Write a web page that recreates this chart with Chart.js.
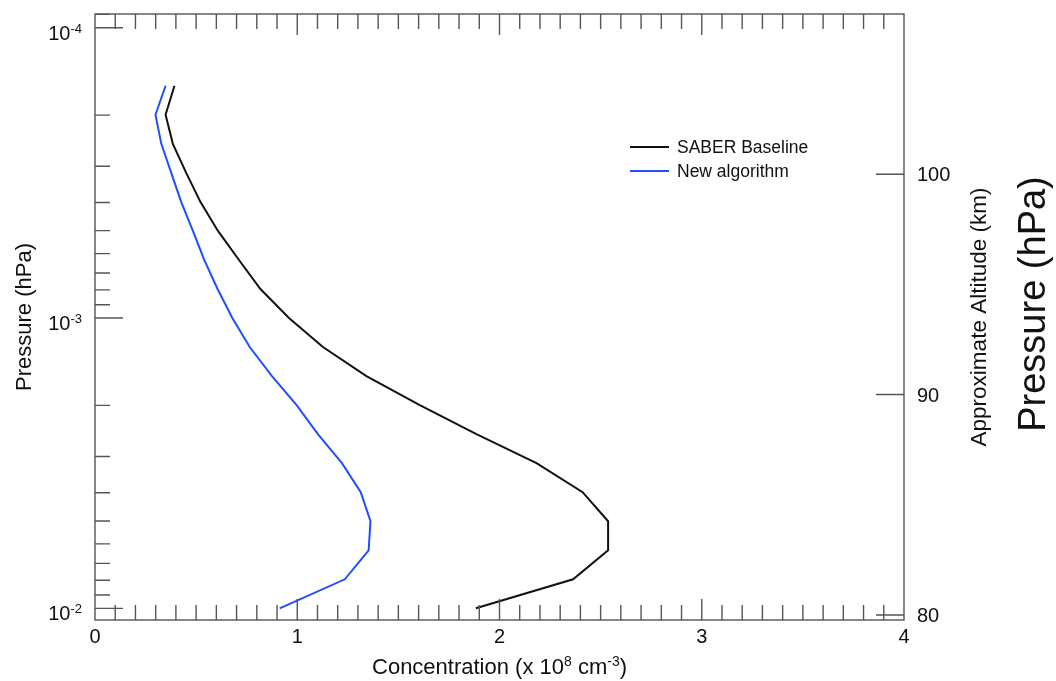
<!DOCTYPE html>
<html lang="en">

<head>
    <meta charset="UTF-8" />
    <title>SABER Baseline vs New algorithm</title>
    <script src="https://cdn.jsdelivr.net/npm/chart.js"></script>
    <style>
        body {
            margin: 0;
            background: #fff;
        }

        .wrap {
            width: 1056px;
            height: 681px;
        }
    </style>
</head>

<body>
    <div class="wrap">
        <canvas id="grafico" width="1056" height="681"></canvas>
    </div>

    <script>
        // pressure levels (hPa), top of the profile first
        const pressure = [1.585e-4, 1.995e-4, 2.512e-4, 3.162e-4, 3.981e-4, 5.012e-4, 6.310e-4, 7.943e-4,
            1.000e-3, 1.259e-3, 1.585e-3, 1.995e-3, 2.512e-3, 3.162e-3, 3.981e-3, 5.012e-3, 6.310e-3, 7.943e-3, 1.000e-2];

        // concentration (x 10^8 cm^-3)
        const saberBaseline = [0.393, 0.349, 0.385, 0.451, 0.521, 0.608, 0.712, 0.818,
            0.959, 1.127, 1.342, 1.606, 1.886, 2.183, 2.411, 2.537, 2.537, 2.364, 1.883];
        const newAlgorithm = [0.349, 0.299, 0.328, 0.377, 0.426, 0.484, 0.540, 0.606,
            0.679, 0.765, 0.875, 0.997, 1.102, 1.221, 1.314, 1.362, 1.353, 1.235, 0.913];

        const seriesNames = ['SABER Baseline', 'New algorithm'];
        const seriesColors = ['#111111', '#1f4fff'];

        const xTicks = [0, 1, 2, 3, 4];
        const pressureTicks = [1e-4, 1e-3, 1e-2];
        const pressureExp = ['-4', '-3', '-2'];
        const altitudeTicks = [80, 90, 100];

        const FONT = '"Liberation Sans", Arial, Helvetica, sans-serif';
        const AXIS = '#555';

        const toPoints = vals => vals.map((v, i) => ({ x: v, y: pressure[i] }));

        // text with a raised small part, e.g. 10 + "-4"
        function supText(ctx, parts, x, y, align) {
            let w = 0;
            parts.forEach(p => {
                ctx.font = `${p.size}px ${FONT}`;
                w += ctx.measureText(p.t).width;
            });
            let cx = align === 'right' ? x - w : align === 'center' ? x - w / 2 : x;
            ctx.textAlign = 'left';
            ctx.textBaseline = 'alphabetic';
            parts.forEach(p => {
                ctx.font = `${p.size}px ${FONT}`;
                ctx.fillText(p.t, cx, y - (p.rise || 0));
                cx += ctx.measureText(p.t).width;
            });
        }

        const ejes = {
            id: 'ejes',
            afterDatasetsDraw(chart) {
                const { ctx, chartArea: a, scales } = chart;
                const sx = scales.x, sy = scales.y, sa = scales.y2;
                ctx.save();
                ctx.strokeStyle = AXIS;
                ctx.lineWidth = 1.4;

                // frame
                ctx.strokeRect(a.left, a.top, a.right - a.left, a.bottom - a.top);

                ctx.beginPath();
                // x ticks, bottom and top, pointing inward
                for (let i = 1; i < 40; i++) {
                    const px = sx.getPixelForValue(i / 10);
                    const len = i % 10 === 0 ? 21 : 15;
                    ctx.moveTo(px, a.bottom); ctx.lineTo(px, a.bottom - len);
                    ctx.moveTo(px, a.top); ctx.lineTo(px, a.top + len);
                }
                // pressure ticks on the left
                for (let k = -5; k <= -2; k++) {
                    for (let m = 1; m <= 9; m++) {
                        const v = m * Math.pow(10, k);
                        if (v < sy.min || v > sy.max) continue;
                        const py = sy.getPixelForValue(v);
                        const len = m === 1 ? 28 : 15;
                        ctx.moveTo(a.left, py); ctx.lineTo(a.left + len, py);
                    }
                }
                // altitude ticks on the right
                altitudeTicks.forEach(v => {
                    const py = sa.getPixelForValue(v);
                    ctx.moveTo(a.right, py); ctx.lineTo(a.right - 28, py);
                });
                ctx.stroke();

                ctx.fillStyle = '#111';
                // x tick labels
                ctx.font = `20px ${FONT}`;
                ctx.textAlign = 'center';
                ctx.textBaseline = 'alphabetic';
                xTicks.forEach(v => ctx.fillText(String(v), sx.getPixelForValue(v), a.bottom + 23));

                // pressure tick labels
                pressureTicks.forEach((v, i) => {
                    const py = sy.getPixelForValue(v);
                    supText(ctx, [{ t: '10', size: 20 }, { t: pressureExp[i], size: 13, rise: 7 }], a.left - 13, py + 12, 'right');
                });

                // altitude tick labels
                ctx.font = `20px ${FONT}`;
                ctx.textAlign = 'left';
                ctx.textBaseline = 'alphabetic';
                altitudeTicks.forEach(v => ctx.fillText(String(v), a.right + 13, sa.getPixelForValue(v) + 7));

                // x title
                supText(ctx, [
                    { t: 'Concentration (x 10', size: 22 },
                    { t: '8', size: 14, rise: 8 },
                    { t: ' cm', size: 22 },
                    { t: '-3', size: 14, rise: 8 },
                    { t: ')', size: 22 }
                ], (a.left + a.right) / 2, 674, 'center');

                // rotated titles
                const midY = (a.top + a.bottom) / 2;
                const vtext = (txt, x, y, size) => {
                    ctx.save();
                    ctx.translate(x, y);
                    ctx.rotate(-Math.PI / 2);
                    ctx.font = `${size}px ${FONT}`;
                    ctx.textAlign = 'center';
                    ctx.textBaseline = 'middle';
                    ctx.fillText(txt, 0, 0);
                    ctx.restore();
                };
                vtext('Pressure (hPa)', 25, midY, 22);
                vtext('Approximate Altitude (km)', 980, midY, 22.5);
                vtext('Pressure (hPa)', 1035, midY - 13, 38);

                // legend
                ctx.lineWidth = 2;
                ctx.font = `17.5px ${FONT}`;
                ctx.textAlign = 'left';
                ctx.textBaseline = 'middle';
                seriesNames.forEach((name, i) => {
                    const ly = 147 + i * 24;
                    ctx.strokeStyle = seriesColors[i];
                    ctx.beginPath();
                    ctx.moveTo(630, ly); ctx.lineTo(669, ly);
                    ctx.stroke();
                    ctx.fillStyle = '#111';
                    ctx.fillText(name, 677, ly + 1);
                });
                ctx.restore();
            }
        };

        const canvas = document.getElementById('grafico');
        new Chart(canvas.getContext('2d'), {
            type: 'scatter',
            data: {
                datasets: [saberBaseline, newAlgorithm].map((vals, i) => ({
                    label: seriesNames[i],
                    data: toPoints(vals),
                    showLine: true,
                    borderColor: seriesColors[i],
                    backgroundColor: seriesColors[i],
                    borderWidth: 2,
                    pointRadius: 0,
                    tension: 0
                }))
            },
            options: {
                responsive: false,
                animation: false,
                devicePixelRatio: 1,
                layout: { padding: { left: 95, top: 14, right: 152, bottom: 61 } },
                plugins: {
                    legend: { display: false },
                    tooltip: { enabled: false }
                },
                scales: {
                    x: { type: 'linear', min: 0, max: 4, display: false },
                    y: { type: 'logarithmic', min: 8.97e-5, max: 1.097e-2, reverse: true, display: false },
                    y2: { type: 'linear', min: 79.77, max: 107.27, display: false }
                }
            },
            plugins: [ejes]
        });
    </script>
</body>

</html>
